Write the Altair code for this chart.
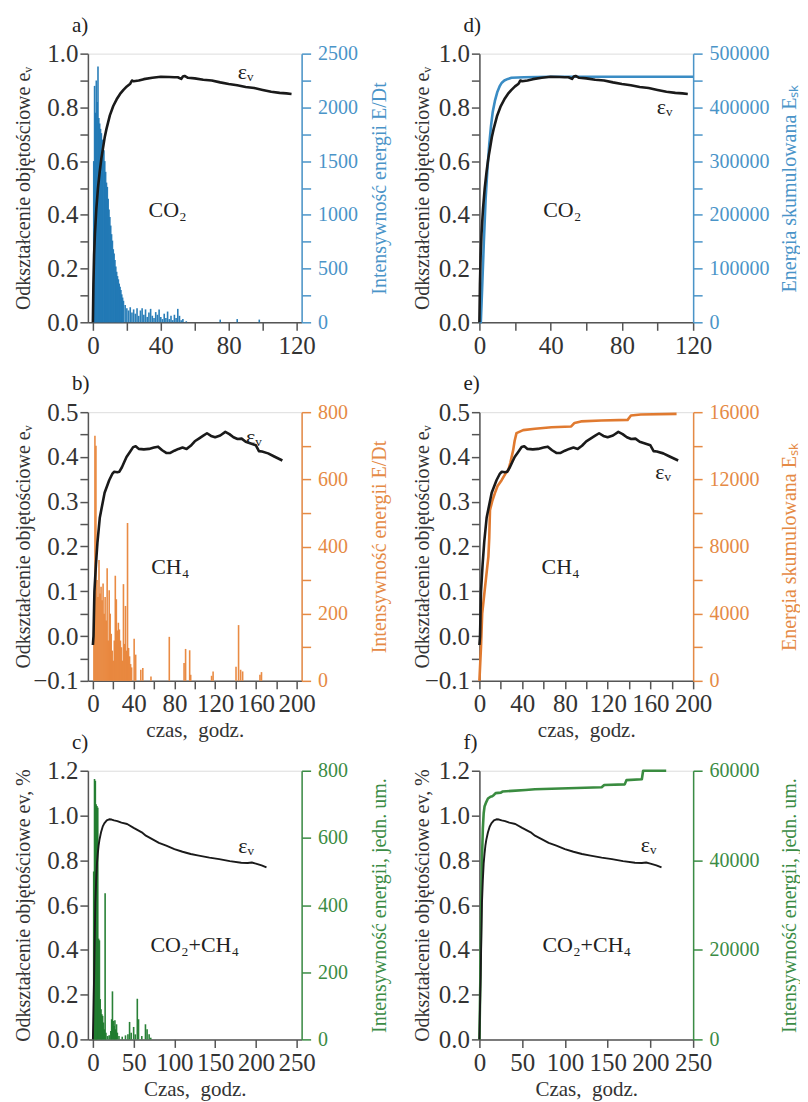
import altair as alt
import pandas as pd

FONT = "Liberation Serif"

# ---------------- data ----------------
# CO2 : volumetric strain (panels a, d)
A_T = [0, 0.3, 0.7, 1.2, 2, 3, 4, 5, 6, 7, 8, 9, 10, 12, 14, 16, 18, 20, 22, 23,
       24, 25, 27, 30, 35, 40, 45, 48, 50, 52, 53, 54, 56, 60, 65, 70, 75, 80, 85, 90,
       95, 100, 105, 110, 114, 117]
A_EV = [0, 0.14, 0.25, 0.33, 0.42, 0.5, 0.56, 0.61, 0.65, 0.69, 0.72, 0.745, 0.77, 0.805, 0.83, 0.85, 0.865, 0.878, 0.888, 0.9,
        0.897, 0.898, 0.9, 0.905, 0.91, 0.914, 0.913, 0.912, 0.912, 0.906, 0.915, 0.917, 0.91, 0.908, 0.903, 0.9, 0.893, 0.887, 0.882, 0.876,
        0.872, 0.865, 0.858, 0.854, 0.852, 0.85]
# CO2 : energy intensity E/Dt (panel a)
A_BAR_T = [0.5, 1, 1.5, 2, 2.5, 3, 3.5, 4, 4.5, 5, 5.5, 6, 6.5, 7, 7.5, 8, 8.5, 9, 9.5, 10,
           10.5, 11, 11.5, 12, 12.5, 13, 13.5, 14, 14.5, 15, 15.5, 16, 16.5, 17, 17.5, 18,
           19, 20, 21, 22, 23, 24, 25, 26, 27, 28, 29, 30, 31, 32, 33, 34, 35, 36, 37, 38,
           39, 40, 41, 42, 43, 44, 45, 46, 47, 48, 49, 50, 51, 52, 53, 55, 75, 85, 98]
A_BAR_V = [1500, 2200, 1950, 2250, 2050, 2380, 1900, 1850, 1800, 1760, 1700, 1660, 1600, 1500, 1400, 1300, 1260, 1150, 1050, 980,
           900, 820, 760, 680, 640, 580, 520, 470, 430, 400, 360, 330, 300, 260, 230, 200,
           160, 130, 110, 140, 90, 120, 80, 130, 60, 110, 130, 70, 120, 50, 90, 125, 60, 40, 95, 70,
           120, 50, 30, 80, 40, 100, 30, 60, 20, 70, 40, 125, 60, 20, 30, 10, 25, 30, 25]
# CO2 : cumulative energy (panel d)
D_CUM_T = [0, 0.8, 1.5, 2.5, 3.5, 4.5, 5.5, 6.5, 7.5, 8.7, 10, 11.5, 12.6, 14, 16, 18, 25, 40, 120]
D_CUM_V = [0, 0, 60000, 150000, 230000, 285000, 330000, 365000, 392000, 412000, 428000, 440000,
           446000, 450000, 453000, 455000, 456000, 457000, 457000]

# CH4 : volumetric strain (panels b, e)
B_T = [0, 0.6, 1.5, 3, 4.5, 6.8, 11.5, 16, 19, 21, 24, 26, 28.5, 31, 33, 36, 39.5, 42, 45, 50, 55,
       60, 64, 68, 72, 76, 80, 84, 88, 92, 96, 100, 104, 108, 112, 116, 120, 125, 130, 134, 138,
       142, 146, 150, 155, 160, 163, 166, 172, 178, 186]
B_EV = [-0.02, 0.0, 0.1, 0.16, 0.21, 0.265, 0.32, 0.348, 0.362, 0.367, 0.366, 0.367, 0.377, 0.39, 0.40, 0.41, 0.422, 0.424, 0.418, 0.417, 0.418,
        0.421, 0.423, 0.415, 0.409, 0.409, 0.414, 0.418, 0.421, 0.418, 0.425, 0.435, 0.441, 0.447, 0.453, 0.447, 0.444, 0.448, 0.456, 0.451, 0.444,
        0.44, 0.441, 0.434, 0.43, 0.426, 0.413, 0.412, 0.408, 0.401, 0.392]
# CH4 : energy intensity (panel b)
B_BAR_T = [1, 2, 3, 4, 5, 6, 7, 8, 9, 10, 11, 12, 13, 14, 15, 16, 17, 18, 19, 20,
           21, 22, 23, 24, 25, 26, 27, 28, 29, 30, 31, 32, 33, 34, 35, 36, 37, 38,
           40.5, 42, 47, 49, 57, 75, 89.5, 91, 95, 96, 116.5, 118, 140.5, 143, 145, 147, 164, 165.5]
B_BAR_V = [250, 730, 700, 300, 250, 360, 260, 280, 240, 290, 200, 250, 180, 335, 120, 270, 200, 140, 90, 60,
           120, 313, 243, 150, 173, 153, 120, 100, 60, 288, 110, 223, 90, 470, 98, 73, 50, 40,
           125, 78, 33, 38, 13, 131, 53, 95, 91, 18, 15, 28, 42, 166, 33, 28, 18, 26]
# CH4 : cumulative energy (panel e)
E_CUM_T = [0, 1.5, 2.6, 5.3, 8.4, 9.2, 9.9, 12, 14.5, 17, 20.8, 24, 27, 29, 31.6, 33, 34.7, 40.9,
           52, 67.5, 85.9, 89, 95, 114, 138.7, 141.8, 151, 184.5]
E_CUM_V = [0, 2040, 4000, 5600, 7400, 8500, 10170, 10700, 11180, 11600, 11950, 12300, 12550, 13000, 13740, 14300, 14750, 14930,
           15010, 15100, 15150, 15360, 15450, 15500, 15540, 15800, 15860, 15900]

# CO2+CH4 : volumetric strain (panels c, f)
C_T = [0, 0.5, 1, 1.5, 2, 3, 4, 5, 6, 7, 8, 10, 12, 14, 17, 20, 23, 26, 30, 35,
       42, 50, 55, 60, 65, 70, 75, 81, 90, 100, 110, 120, 130, 143, 155, 168, 182, 190, 195, 200,
       207, 213]
C_EV = [0, 0.1, 0.2, 0.28, 0.4, 0.61, 0.71, 0.786, 0.83, 0.865, 0.89, 0.925, 0.95, 0.965, 0.978, 0.983, 0.982, 0.978, 0.975, 0.968,
        0.962, 0.945, 0.935, 0.925, 0.91, 0.9, 0.89, 0.878, 0.865, 0.85, 0.838, 0.828, 0.821, 0.812, 0.805, 0.796, 0.789, 0.788, 0.79, 0.785,
        0.777, 0.768]
# CO2+CH4 : energy intensity (panel c)
C_BAR_T = [1, 2, 3, 4, 5, 6, 7, 8, 9, 10, 11, 12, 13, 14, 15, 16, 18, 20,
           22, 23, 24, 25, 26, 27, 28, 29, 30, 32, 36, 40, 43, 45, 47, 50, 52,
           54.5, 56, 60, 64.5, 66.5, 69, 71]
C_BAR_V = [500, 775, 770, 700, 695, 690, 300, 295, 120, 90, 75, 70, 50, 30, 435, 20, 10, 12,
           25, 60, 143, 55, 40, 57, 30, 45, 20, 10, 8, 12, 15, 52, 20, 37, 15,
           121, 60, 10, 45, 30, 15, 5]
# CO2+CH4 : cumulative energy (panel f)
F_CUM_T = [0, 1, 2, 3, 4, 5, 6, 8, 10, 13, 15, 17, 19, 25, 27, 38, 54, 65, 104, 143, 146, 170, 172, 190, 191.5, 218.5]
F_CUM_V = [0, 12000, 28000, 40000, 47000, 50500, 52000, 53000, 53800, 54200, 54300, 54600, 55000, 55100, 55350, 55500,
           55700, 55850, 56100, 56300, 56800, 56950, 57900, 58100, 60000, 60000]

EPS = "\u03b5\u1d65"
LEFT_TITLE_AB = "Odkształcenie objętościowe e\u1d65"
LEFT_TITLE_C = "Odkształcenie objętościowe ev, %"
X_TITLE_LOW = "czas,\u00a0\u00a0godz."
X_TITLE_UP = "Czas,\u00a0\u00a0godz."

# annotation texts and anchor points (data units)
ANNOT = {
    "a": [(EPS, 90, 0.93), ("CO\u2082", 44, 0.418)],
    "d": [(EPS, 104, 0.80), ("CO\u2082", 46.5, 0.418)],
    "b": [(EPS, 158, 0.444), ("CH\u2084", 76, 0.154)],
    "e": [(EPS, 172, 0.366), ("CH\u2084", 76, 0.155)],
    "c": [(EPS, 188, 0.864), ("CO\u2082+CH\u2084", 125, 0.42)],
    "f": [(EPS, 198, 0.869), ("CO\u2082+CH\u2084", 125.6, 0.42)],
}

BLUE_BAR = "#1f77b4"
BLUE_TXT = "#4a94c8"
ORANGE_BAR = "#e8853a"
ORANGE_TXT = "#e58a45"
GREEN_BAR = "#1d7a2c"
GREEN_LINE = "#3a8c40"
GREEN_TXT = "#3b8c45"
DARK = "#333333"

W, H = 214, 269


def ticks(lo, hi, step):
    n = int(round((hi - lo) / step))
    return [round(lo + i * step, 6) for i in range(n + 1)]


def lexpr(step, fmt):
    return (f"abs(datum.value/{step} - round(datum.value/{step})) < 1e-6 ? "
            f"format(datum.value, '{fmt}') : ''")


def panel(letter, x_dom, x_tick, x_lab, x_title, ev_t, ev_v, ev_dom, ev_tick, ev_lab,
          left_title, right_kind, r_t, r_v, r_dom, r_tick, r_lab, r_title,
          r_color, r_txt, line_w, left_ext, left_pad, right_ext, right_pad):
    xaxis = alt.Axis(values=ticks(x_dom[0], x_dom[1], x_tick), labelExpr=lexpr(x_lab, "d"),
                     title=x_title, grid=False, tickSize=8, tickWidth=1.5, domainWidth=1.5,
                     domainColor="#555555", tickColor="#555555", labelColor=DARK, titleColor=DARK,
                     labelFont=FONT, titleFont=FONT, labelFontSize=25, titleFontSize=21,
                     titleFontWeight="normal", labelPadding=3, titlePadding=3, labelFlush=False,
                     labelOverlap=False)
    xenc = alt.X("t:Q", scale=alt.Scale(domain=x_dom, nice=False, zero=False), axis=xaxis)

    laxis = alt.Axis(values=ticks(ev_dom[0], ev_dom[1], ev_tick), labelExpr=lexpr(ev_lab, ".1f"),
                     title=left_title, orient="left", grid=False, tickSize=8, tickWidth=1.5,
                     domainWidth=1.5, domainColor="#555555", tickColor="#555555",
                     labelColor=DARK, titleColor=DARK, labelFont=FONT, titleFont=FONT,
                     labelFontSize=25, titleFontSize=20, titleFontWeight="normal",
                     labelPadding=2, minExtent=left_ext, maxExtent=left_ext,
                     titlePadding=left_pad, labelOverlap=False, labelFlush=False)
    yl = alt.Y("ev:Q", scale=alt.Scale(domain=ev_dom, nice=False, zero=False), axis=laxis)

    raxis = alt.Axis(values=ticks(r_dom[0], r_dom[1], r_tick), labelExpr=lexpr(r_lab, "d"),
                     title=r_title, orient="right", grid=False, tickSize=9, tickWidth=1.5,
                     domainWidth=1.5, domainColor=r_txt, tickColor=r_txt, labelColor=r_txt,
                     titleColor=r_txt, labelFont=FONT, titleFont=FONT, labelFontSize=20,
                     titleFontSize=20, titleFontWeight="normal", labelPadding=7,
                     titleAngle=270, titleBaseline="top", titlePadding=right_pad,
                     minExtent=right_ext, maxExtent=right_ext,
                     labelOverlap=False, labelFlush=False)
    yr = alt.Y("v:Q", scale=alt.Scale(domain=r_dom, nice=False, zero=True), axis=raxis)

    rdf = pd.DataFrame({"t": r_t, "v": r_v})
    if right_kind == "bar":
        right = alt.Chart(rdf).mark_bar(orient="vertical", size=1.6, color=r_color,
                                        opacity=0.95).encode(x=xenc, y=yr)
    else:
        right = alt.Chart(rdf).mark_line(color=r_color, strokeWidth=2.6,
                                         strokeJoin="round").encode(x=xenc, y=yr)

    edf = pd.DataFrame({"t": ev_t, "ev": ev_v})
    ev_line = alt.Chart(edf).mark_line(color="#1a1a1a", strokeWidth=line_w,
                                       strokeJoin="round").encode(x=xenc, y=yl)
    ann = ANNOT[letter]
    adf = pd.DataFrame({"t": [a[1] for a in ann], "ev": [a[2] for a in ann],
                        "label": [a[0] for a in ann]})
    txt = alt.Chart(adf).mark_text(font=FONT, fontSize=22, color="#222222",
                                   align="center", baseline="middle").encode(
        x=xenc, y=yl, text="label:N")
    left = alt.layer(ev_line, txt)
    return alt.layer(right, left).resolve_scale(y="independent").properties(
        width=W, height=H,
        title=alt.TitleParams(text=letter + ")", anchor="start", frame="group", dx=-16,
                              fontSize=21, font=FONT, fontWeight="normal", color="#222222",
                              offset=6))


pa = panel("a", [0, 120], 20, 40, None, A_T, A_EV, [0, 1.0], 0.1, 0.2, LEFT_TITLE_AB,
           "bar", A_BAR_T, A_BAR_V, [0, 2500], 250, 500, "Intensywność energii E/Dt",
           BLUE_BAR, BLUE_TXT, 2.6, 50, 4, 60, 8)
pd_ = panel("d", [0, 120], 20, 40, None, A_T, A_EV, [0, 1.0], 0.1, 0.2, LEFT_TITLE_AB,
            "line", D_CUM_T, D_CUM_V, [0, 500000], 50000, 100000, "Energia skumulowana E\u209b\u2096",
            "#3a8cc4", BLUE_TXT, 2.6, 44, 3, 82, 4)
pb = panel("b", [0, 200], 20, 40, X_TITLE_LOW, B_T, B_EV, [-0.1, 0.5], 0.05, 0.1, LEFT_TITLE_AB,
           "bar", B_BAR_T, B_BAR_V, [0, 800], 100, 200, "Intensywność energii E/Dt",
           ORANGE_BAR, ORANGE_TXT, 2.6, 50, 4, 60, 8)
pe = panel("e", [0, 200], 20, 40, X_TITLE_LOW, B_T, B_EV, [-0.1, 0.5], 0.05, 0.1, LEFT_TITLE_AB,
           "line", E_CUM_T, E_CUM_V, [0, 16000], 2000, 4000, "Energia skumulowana E\u209b\u2096",
           "#e07a30", ORANGE_TXT, 2.6, 44, 3, 82, 4)
pc = panel("c", [0, 250], 50, 50, X_TITLE_UP, C_T, C_EV, [0, 1.2], 0.2, 0.2, LEFT_TITLE_C,
           "bar", C_BAR_T, C_BAR_V, [0, 800], 200, 200, "Intensywność energii, jedn. um.",
           GREEN_BAR, GREEN_TXT, 1.9, 50, 4, 60, 8)
pf = panel("f", [0, 250], 50, 50, X_TITLE_UP, C_T, C_EV, [0, 1.2], 0.2, 0.2, LEFT_TITLE_C,
           "line", F_CUM_T, F_CUM_V, [0, 60000], 20000, 20000, "Intensywność energii, jedn. um.",
           GREEN_LINE, GREEN_TXT, 1.9, 44, 3, 82, 4)

chart = alt.concat(pa, pd_, pb, pe, pc, pf, columns=2,
                   spacing=alt.RowColnumber(row=90, column=178), bounds="flush").properties(
    padding={"left": 5, "top": 5, "right": 0, "bottom": 0}
).configure_view(stroke=None).configure(font=FONT)

chart.save("out.html", embed_options={"renderer": "svg", "actions": False})
